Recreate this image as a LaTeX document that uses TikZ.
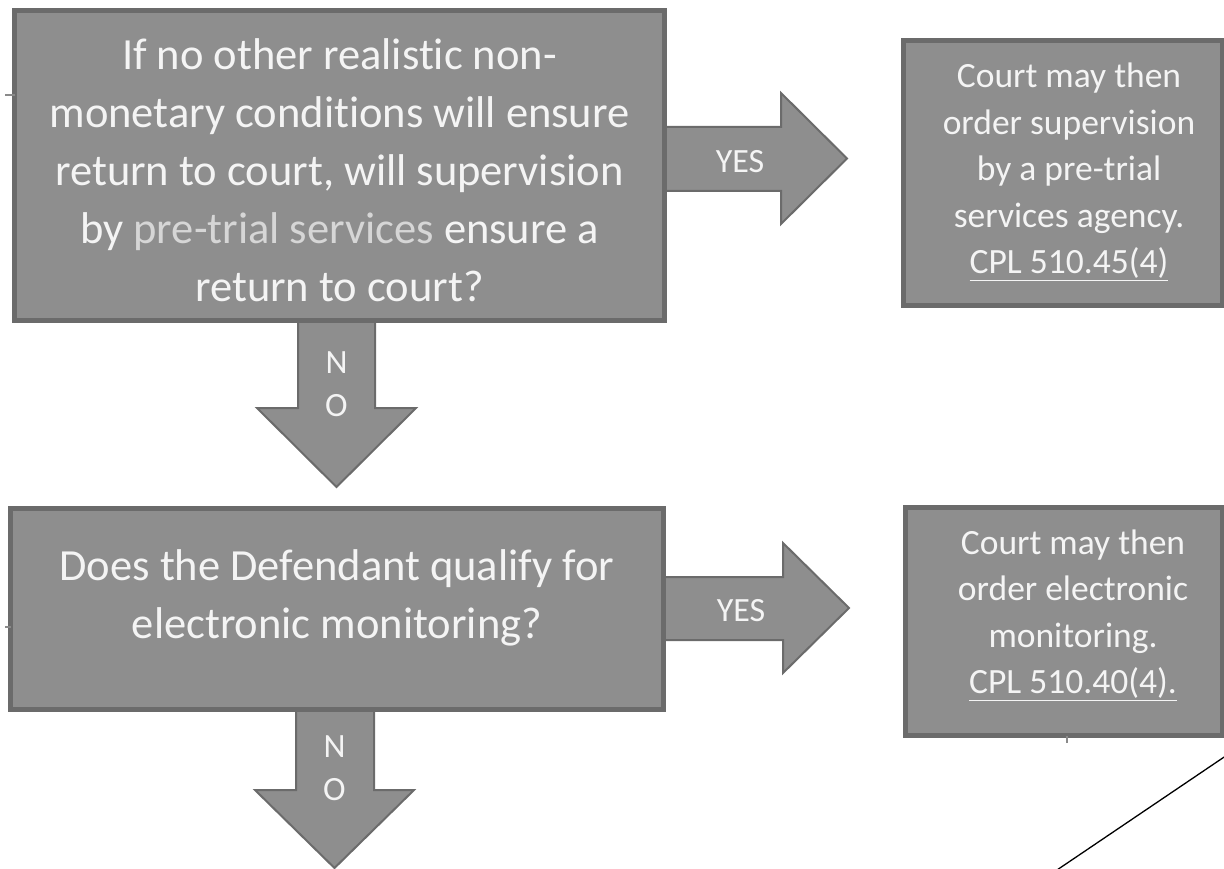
\documentclass[tikz,border=0pt]{standalone}
\usepackage{fontspec}
\setmainfont{Carlito}[Ligatures=NoCommon]
\usetikzlibrary{calc}
\definecolor{boxfill}{HTML}{8E8E8E}
\definecolor{boxline}{HTML}{6B6B6B}
\definecolor{txt}{HTML}{F4F4F4}
\definecolor{soft}{HTML}{D6D6D6}
\definecolor{tick}{HTML}{8A8A8A}

\begin{document}
\begin{tikzpicture}[x=1pt,y=-1pt,
  box/.style={draw=boxline, fill=boxfill, line width=5pt, inner sep=0pt, outer sep=0pt},
  bigtext/.style={text=txt, align=center, inner sep=0pt, font=\fontsize{44.5}{58}\selectfont},
  smalltext/.style={text=txt, align=center, inner sep=0pt, font=\fontsize{35.5}{46.5}\selectfont},
  lbl/.style={text=txt, align=center, inner sep=0pt, font=\fontsize{34}{43}\selectfont},
  blockarrow/.style={draw=boxline, fill=boxfill, line width=2pt, line join=miter},
  artifact/.style={draw=tick, line width=1.2pt}]
\useasboundingbox (0,0) rectangle (1224,869);

% block arrows (drawn first so the boxes cover their roots)
\draw[blockarrow] (658,127) -- (781,127) -- (781,93) -- (847,158.5) -- (781,224) -- (781,191) -- (658,191) -- cycle;
\draw[blockarrow] (298,316) -- (298,408) -- (257,408) -- (336.5,487) -- (416,408) -- (375,408) -- (375,316) -- cycle;
\draw[blockarrow] (658,577) -- (783,577) -- (783,543) -- (849,608) -- (783,673) -- (783,640) -- (658,640) -- cycle;
\draw[blockarrow] (296,706) -- (296,790) -- (255,790) -- (334.5,868) -- (414,790) -- (374,790) -- (374,706) -- cycle;

% boxes
\node[box, minimum width=650pt, minimum height=310pt] (q1) at (339.5,165.5) {};
\node[box, minimum width=319pt, minimum height=265pt] (a1) at (1063,173) {};
\node[box, minimum width=653pt, minimum height=201pt] (q2) at (337,609) {};
\node[box, minimum width=317pt, minimum height=228pt] (a2) at (1064,621.5) {};

% box texts
\node[bigtext] (q1t) at (339.5,170) {If no other realistic non-\\monetary conditions will ensure\\return to court, will supervision\\by {\color{soft}pre-trial services} ensure a\\return to court?};
\node[smalltext] (a1t) at (1069,172) {Court may then\\order supervision\\by a pre-trial\\services agency.\\\underline{CPL 510.45(4)}};
\node[bigtext] (q2t) at (337,598) {Does the Defendant qualify for\\electronic monitoring?};
\node[smalltext] (a2t) at (1073,615) {Court may then\\order electronic\\monitoring.\\\underline{CPL 510.40(4).}};

% arrow labels
\node[lbl] (yes1) at (740,162) {YES};
\node[lbl] (no1) at (336.5,384) {N\\O};
\node[lbl] (yes2) at (741,611) {YES};
\node[lbl] (no2) at (334.5,768) {N\\O};

% small stray marks and the diagonal rule
\draw[artifact] (5,95) -- (q1.west |- 0,95);
\draw[artifact] (5,627) -- (q2.west |- 0,627);
\draw[artifact] (a2.south -| 1067,0) -- (1067,743);
\coordinate (d1) at (1236,749);
\coordinate (d2) at (1054,872);
\draw[black, line width=1.3pt] (d1) -- (d2);
\end{tikzpicture}
\end{document}
